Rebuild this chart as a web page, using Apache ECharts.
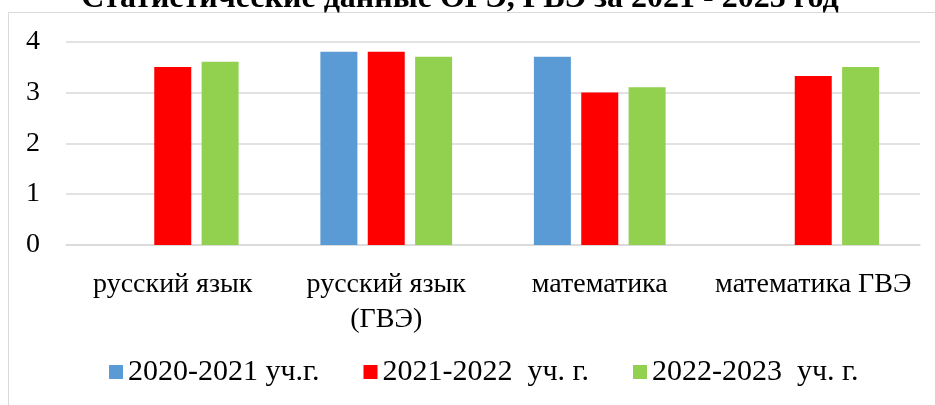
<!DOCTYPE html>
<html>
<head>
<meta charset="utf-8">
<script src="https://cdn.jsdelivr.net/npm/echarts@6/dist/echarts.min.js"></script>
<style>
html,body{margin:0;padding:0;background:#fff;}
#chart{width:935px;height:405px;}
</style>
</head>
<body>
<div id="chart"></div>
<script>
const titleText = 'Статистические данные ОГЭ, ГВЭ за 2021 - 2023 год';
const categories = ['русский язык', 'русский язык\n(ГВЭ)', 'математика', 'математика ГВЭ'];
const seriesNames = ['2020-2021 уч.г.', '2021-2022  уч. г.', '2022-2023  уч. г.'];
const values2021 = [null, 3.8, 3.7, null];
const values2022 = [3.5, 3.8, 3.0, 3.32];
const values2023 = [3.6, 3.7, 3.1, 3.5];
const yTicks = [0, 1, 2, 3, 4];

const colors = ['#5b9bd5', '#ff0000', '#92d050'];
const fam = '"Liberation Serif", serif';

const chart = echarts.init(document.getElementById('chart'), null, {renderer: 'canvas'});
const seriesData = [values2021, values2022, values2023];

chart.setOption({
  animation: false,
  backgroundColor: '#fff',
  textStyle: {fontFamily: fam},
  graphic: [
    {
      type: 'rect', silent: true,
      shape: {x: 8.5, y: 12.5, width: 1000, height: 500},
      style: {fill: 'none', stroke: '#d9d9d9', lineWidth: 1}
    },
    {
      type: 'text', silent: true,
      style: {
        text: titleText, x: 460, y: 15,
        fontFamily: fam, fontSize: 32, fontWeight: 'bold',
        fill: '#000', textAlign: 'center', textVerticalAlign: 'bottom'
      }
    }
  ],
  legend: {
    left: 104, top: 352,
    itemWidth: 14, itemHeight: 14, itemGap: 44, itemTextGap: 5,
    icon: 'rect',
    textStyle: {fontFamily: fam, fontSize: 30, color: '#000'},
    data: seriesNames
  },
  grid: {left: 66, right: 15, top: 41.5, bottom: 160, containLabel: false},
  xAxis: {
    type: 'category',
    data: categories,
    axisLine: {show: true, lineStyle: {color: '#d9d9d9', width: 1.5}},
    axisTick: {show: false},
    axisLabel: {fontFamily: fam, fontSize: 28, color: '#000', margin: 22, lineHeight: 35, interval: 0}
  },
  yAxis: {
    type: 'value',
    min: yTicks[0], max: yTicks[yTicks.length - 1], interval: 1,
    axisLine: {show: false},
    axisTick: {show: false},
    splitLine: {lineStyle: {color: '#d9d9d9', width: 1.5}},
    axisLabel: {fontFamily: fam, fontSize: 28, color: '#000', margin: 26}
  },
  series: seriesNames.map((name, i) => ({
    name: name,
    type: 'bar',
    data: seriesData[i],
    barWidth: 37,
    barGap: '28%',
    itemStyle: {color: colors[i]}
  }))
});
</script>
</body>
</html>
